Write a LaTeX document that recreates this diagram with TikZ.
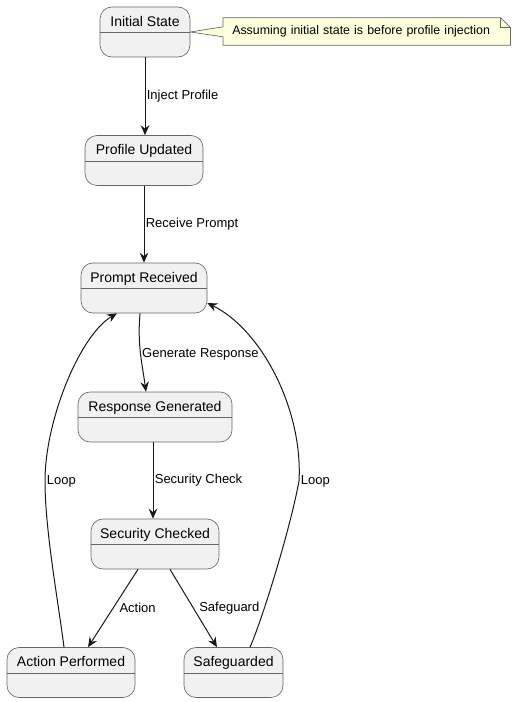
\documentclass[tikz,border=0pt]{standalone}
\usepackage{fontspec}
\setmainfont{Liberation Sans}
\usetikzlibrary{arrows.meta,backgrounds}

\definecolor{stfill}{HTML}{F1F1F1}
\definecolor{stline}{HTML}{181818}
\definecolor{stborder}{HTML}{666666}
\definecolor{notefill}{HTML}{FEFFDD}

\tikzset{
  state box/.style={draw=stborder, fill=stfill, line width=0.5pt, rounded corners=9pt,
    minimum height=37.5pt, inner sep=0pt},
  state title/.style={font=\fontsize{10.5}{12}\selectfont, inner sep=0pt, anchor=base},
  trans/.style={draw=stline, line width=0.75pt, -{Stealth[length=7.5pt,width=6.5pt,inset=2.6pt]}},
  trans label/.style={font=\fontsize{9.75}{11}\selectfont, inner sep=1pt},
  note box/.style={draw=stborder, fill=notefill, line width=0.5pt},
}

% name, x, y, width, title
\newcommand{\umlstate}[5]{%
  \node[state box, minimum width=#4] (#1) at (#2,#3) {};
  \draw[stborder, line width=0.5pt] ([yshift=-19.5pt]#1.north west) -- ([yshift=-19.5pt]#1.north east);
  \node[state title] (#1-title) at ([yshift=-14.6pt]#1.north) {#5};
}

\begin{document}
\begin{tikzpicture}[x=0.75pt, y=-0.75pt]
  \useasboundingbox (0,0) rectangle (516,702);

  % states
  \umlstate{init}{145}{32}{67.5pt}{Initial State}
  \umlstate{prof}{144}{160.5}{88.5pt}{Profile Updated}
  \umlstate{prompt}{144}{288}{94.5pt}{Prompt Received}
  \umlstate{resp}{155}{417}{115.5pt}{Response Generated}
  \umlstate{sec}{155}{544}{96pt}{Security Checked}
  \umlstate{act}{71}{672.5}{96pt}{Action Performed}
  \umlstate{safe}{233.5}{672.5}{74.25pt}{Safeguarded}

  % note
  \node[font=\fontsize{9.3}{11}\selectfont, anchor=west, text width=201.75pt, inner xsep=6.75pt,
    inner ysep=0pt, minimum height=20.25pt, align=left] (note) at (223,31.5)
    {\mbox{Assuming initial state is before profile injection}};
  \begin{scope}[on background layer]
    \draw[note box] (note.north west) -- ([xshift=-7.5pt]note.north east) -- ([yshift=-7.5pt]note.north east)
      -- (note.south east) -- (note.south west) -- ([yshift=-4pt]note.west) -- (init.east)
      -- ([yshift=3.5pt]note.west) -- cycle;
    \draw[note box, fill=none] ([xshift=-7.5pt]note.north east) |- ([yshift=-7.5pt]note.north east);
  \end{scope}

  % transitions
  \draw[trans] (init.south) -- (init.south |- prof.north)
    node[trans label, midway, right] {Inject Profile};
  \draw[trans] (prof.south) -- (prompt.north)
    node[trans label, midway, right] {Receive Prompt};
  \draw[trans] ([xshift=-3pt]prompt.south) to[out=-95, in=98]
    node[trans label, right, yshift=-1.5pt] {Generate Response} ([xshift=-6.75pt]resp.north);
  \draw[trans] ([xshift=-1.5pt]resp.south) -- ([xshift=-1.5pt]sec.north)
    node[trans label, midway, right] {Security Check};
  \draw[trans] ([xshift=-12.75pt]sec.south) -- node[trans label, right=3.5pt] {Action} ([xshift=12.75pt]act.north);
  \draw[trans] ([xshift=11.25pt]sec.south) -- node[trans label, right=3pt] {Safeguard} ([xshift=-12.4pt]safe.north);

  % loops back
  \draw[trans] ([xshift=-5.25pt]act.north) .. controls (58,600) and (45,530) .. (45,481)
    node[trans label, right] {Loop} .. controls (45,420) and (80,335) .. ([xshift=-20.25pt]prompt.south);
  \draw[trans] ([xshift=12.4pt]safe.north) .. controls (262,620) and (290,530) .. (299,481)
    node[trans label, right] {Loop} .. controls (303,410) and (262,330) .. ([yshift=-11.25pt]prompt.east);
\end{tikzpicture}
\end{document}
